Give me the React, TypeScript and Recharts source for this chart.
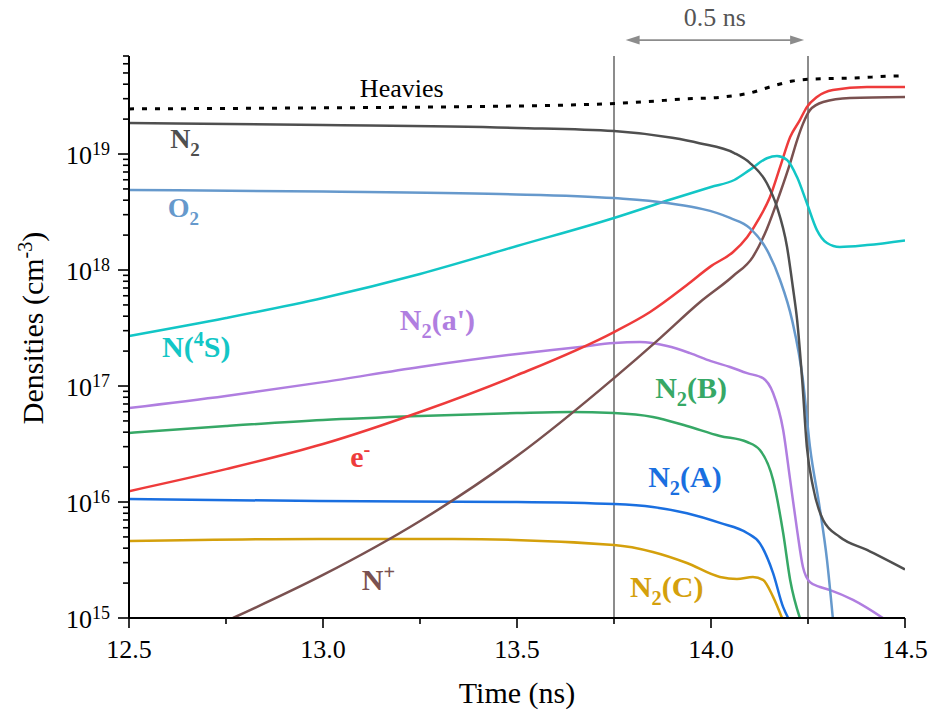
import { LineChart, Line, XAxis, YAxis, ReferenceLine, ReferenceDot } from "recharts"

const FONT = '"Liberation Serif", "Times New Roman", Times, serif'

// time axis (ns)
const timeTicks = [12.5, 12.75, 13, 13.25, 13.5, 13.75, 14, 14.25, 14.5]
const timeMajor = [12.5, 13, 13.5, 14, 14.5]
const timeMajorLabels = ["12.5", "13.0", "13.5", "14.0", "14.5"]

// density axis (cm^-3), log
const decades = [1e15, 1e16, 1e17, 1e18, 1e19]
const decadeExp = ["15", "16", "17", "18", "19"]
const minorMult = [2, 3, 4, 5, 6, 7, 8, 9]
const densityMax = 7e19
const densityTicks = decades
  .flatMap((d) => [d, ...minorMult.map((m) => m * d)])
  .filter((v) => v <= densityMax)

// markers of the 0.5 ns window
const windowStart = 13.75
const windowEnd = 14.25
const arrowFrom = 13.78
const arrowTo = 14.24
const arrowLevel = 9.6e19

// series
const heaviesTime = [12.5, 13.0, 13.45, 13.6, 13.72, 13.82, 13.93, 14.03, 14.1, 14.16, 14.21, 14.26, 14.37, 14.47, 14.5]
const heaviesDens = [2.45e19, 2.5e19, 2.58e19, 2.63e19, 2.7e19, 2.81e19, 2.98e19, 3.1e19, 3.36e19, 3.86e19, 4.26e19, 4.43e19, 4.52e19, 4.7e19, 4.72e19]

const n2Time = [12.5, 13.0, 13.5, 13.75, 13.9, 13.97, 14.06, 14.1, 14.144, 14.17, 14.196, 14.211, 14.222, 14.235, 14.247, 14.263, 14.289, 14.332, 14.402, 14.5]
const n2Dens = [1.85e19, 1.78e19, 1.68e19, 1.58e19, 1.38e19, 1.24e19, 1.02e19, 8.4e18, 5.6e18, 3.5e18, 1.58e18, 7.1e17, 3.7e17, 1.13e17, 3.0e16, 1.35e16, 7.0e15, 5.0e15, 3.86e15, 2.62e15]

const o2Time = [12.5, 13.0, 13.456, 13.75, 13.887, 14.049, 14.1, 14.144, 14.178, 14.209, 14.237, 14.255, 14.28, 14.299, 14.314]
const o2Dens = [4.9e18, 4.75e18, 4.52e18, 4.17e18, 3.78e18, 2.81e18, 2.3e18, 1.49e18, 8.2e17, 3.7e17, 1.12e17, 3.0e16, 9.0e15, 3.16e15, 1.0e15]

const n4sTime = [12.5, 12.75, 13.0, 13.25, 13.5, 13.75, 13.9, 14.0, 14.06, 14.1, 14.144, 14.17, 14.196, 14.222, 14.247, 14.273, 14.299, 14.332, 14.402, 14.5]
const n4sDens = [2.7e17, 3.86e17, 5.74e17, 9.25e17, 1.61e18, 2.81e18, 4.09e18, 5.2e18, 5.97e18, 7.3e18, 9.2e18, 9.6e18, 8.9e18, 6.3e18, 3.78e18, 2.21e18, 1.71e18, 1.58e18, 1.64e18, 1.8e18]

const n2aTime = [12.5, 12.75, 13.0, 13.25, 13.5, 13.662, 13.75, 13.817, 13.887, 13.946, 14.0, 14.049, 14.093, 14.134, 14.16, 14.186, 14.204, 14.222, 14.237, 14.255, 14.281, 14.307, 14.366, 14.443]
const n2aDens = [6.46e16, 8.2e16, 1.08e17, 1.46e17, 1.89e17, 2.17e17, 2.35e17, 2.39e17, 2.21e17, 1.92e17, 1.64e17, 1.46e17, 1.29e17, 1.17e17, 8.7e16, 4.18e16, 1.55e16, 5.7e15, 2.75e15, 2.04e15, 1.85e15, 1.74e15, 1.43e15, 1.0e15]

const n2bTime = [12.5, 12.75, 13.0, 13.25, 13.5, 13.637, 13.75, 13.85, 13.938, 14.023, 14.093, 14.126, 14.16, 14.186, 14.204, 14.229]
const n2bDens = [3.94e16, 4.52e16, 5.09e16, 5.51e16, 5.85e16, 5.97e16, 5.85e16, 5.41e16, 4.52e16, 3.71e16, 3.29e16, 2.81e16, 1.55e16, 5.4e15, 2.13e15, 1.0e15]

const elecTime = [12.5, 12.75, 13.0, 13.25, 13.5, 13.75, 13.843, 13.938, 14.0, 14.057, 14.093, 14.126, 14.152, 14.178, 14.204, 14.229, 14.247, 14.273, 14.314, 14.402, 14.5]
const elecDens = [1.24e16, 1.92e16, 3.16e16, 5.97e16, 1.24e17, 2.92e17, 4.35e17, 7.43e17, 1.08e18, 1.43e18, 1.92e18, 2.86e18, 4.26e18, 7.7e18, 1.4e19, 1.96e19, 2.54e19, 3.1e19, 3.56e19, 3.78e19, 3.78e19]

const nPlusTime = [12.768, 13.0, 13.25, 13.5, 13.75, 13.869, 13.972, 14.057, 14.108, 14.144, 14.178, 14.204, 14.222, 14.237, 14.255, 14.289, 14.358, 14.5]
const nPlusDens = [1.0e15, 2.35e15, 6.86e15, 2.49e16, 1.17e17, 2.59e17, 5.3e17, 8.88e17, 1.3e18, 2.26e18, 4.61e18, 8.36e18, 1.32e19, 1.82e19, 2.39e19, 2.81e19, 3.04e19, 3.1e19]

const n2AstTime = [12.5, 12.99, 13.5, 13.75, 13.85, 13.938, 14.023, 14.093, 14.126, 14.16, 14.186, 14.199]
const n2AstDens = [1.06e16, 1.02e16, 1.0e16, 9.6e15, 9.06e15, 8.0e15, 6.6e15, 5.4e15, 4.4e15, 2.44e15, 1.24e15, 1.0e15]

const n2cTime = [12.5, 12.99, 13.335, 13.75, 13.85, 13.938, 14.023, 14.067, 14.108, 14.134, 14.16, 14.183]
const n2cDens = [4.61e15, 4.8e15, 4.8e15, 4.26e15, 3.71e15, 2.98e15, 2.26e15, 2.17e15, 2.26e15, 2.13e15, 1.52e15, 1.0e15]

const C = {
  heavies: "#000000",
  n2: "#4f4f4f",
  o2: "#6699cc",
  n4s: "#12c6c6",
  n2a: "#b07ee0",
  n2b: "#36a866",
  elec: "#ee3b3b",
  nPlus: "#7a5150",
  n2A: "#1a6fe0",
  n2c: "#d4a00c",
}

const zip = (t: number[], v: number[]) => t.map((x, i) => ({ t: x, v: v[i] }))

const series = [
  { id: "n2c", data: zip(n2cTime, n2cDens), color: C.n2c },
  { id: "n2A", data: zip(n2AstTime, n2AstDens), color: C.n2A },
  { id: "n2b", data: zip(n2bTime, n2bDens), color: C.n2b },
  { id: "n2a", data: zip(n2aTime, n2aDens), color: C.n2a },
  { id: "nPlus", data: zip(nPlusTime, nPlusDens), color: C.nPlus },
  { id: "elec", data: zip(elecTime, elecDens), color: C.elec },
  { id: "n4s", data: zip(n4sTime, n4sDens), color: C.n4s },
  { id: "o2", data: zip(o2Time, o2Dens), color: C.o2 },
  { id: "n2", data: zip(n2Time, n2Dens), color: C.n2 },
]

type Piece = [string, "n" | "sub" | "sup"]
const curveLabels: { t: number; v: number; pieces: Piece[]; color: string; size: number; bold: boolean }[] = [
  { t: 13.095, v: 3.1e19, pieces: [["Heavies", "n"]], color: C.heavies, size: 26, bold: false },
  { t: 12.606, v: 1.13e19, pieces: [["N", "n"], ["2", "sub"]], color: C.n2, size: 28, bold: true },
  { t: 12.6, v: 2.87e18, pieces: [["O", "n"], ["2", "sub"]], color: C.o2, size: 28, bold: true },
  { t: 12.585, v: 1.78e17, pieces: [["N(", "n"], ["4", "sup"], ["S)", "n"]], color: C.n4s, size: 30, bold: true },
  { t: 13.198, v: 3.04e17, pieces: [["N", "n"], ["2", "sub"], ["(a')", "n"]], color: C.n2a, size: 30, bold: true },
  { t: 13.856, v: 7.9e16, pieces: [["N", "n"], ["2", "sub"], ["(B)", "n"]], color: C.n2b, size: 30, bold: true },
  { t: 13.07, v: 2.0e16, pieces: [["e", "n"], ["-", "sup"]], color: C.elec, size: 30, bold: true },
  { t: 13.838, v: 1.35e16, pieces: [["N", "n"], ["2", "sub"], ["(A)", "n"]], color: C.n2A, size: 30, bold: true },
  { t: 13.791, v: 1.52e15, pieces: [["N", "n"], ["2", "sub"], ["(C)", "n"]], color: C.n2c, size: 30, bold: true },
  { t: 13.1, v: 1.74e15, pieces: [["N", "n"], ["+", "sup"]], color: C.nPlus, size: 30, bold: true },
]

function renderPieces(pieces: Piece[], size: number) {
  let shift = 0
  return pieces.map(([txt, kind], k) => {
    const target = kind === "sub" ? size * 0.28 : kind === "sup" ? -size * 0.36 : 0
    const dy = target - shift
    shift = target
    return (
      <tspan key={k} dy={dy} fontSize={kind === "n" ? size : size * 0.68}>
        {txt}
      </tspan>
    )
  })
}

function BottomTick(props: any) {
  const { x, y, payload } = props
  const i = timeMajor.indexOf(payload.value)
  const len = i >= 0 ? 10 : 6
  return (
    <g>
      <line x1={x} x2={x} y1={y} y2={y + len} stroke="#000" strokeWidth={1.6} />
      {i >= 0 && (
        <text x={x} y={y + 40} textAnchor="middle" fontFamily={FONT} fontSize={26} fill="#000">
          {timeMajorLabels[i]}
        </text>
      )}
    </g>
  )
}

function TopTick(props: any) {
  const { x, y, payload } = props
  const len = timeMajor.includes(payload.value) ? 10 : 6
  return <line x1={x} x2={x} y1={y} y2={y + len} stroke="#000" strokeWidth={1.6} />
}

function LeftTick(props: any) {
  const { x, y, payload } = props
  const i = decades.indexOf(payload.value)
  const len = i >= 0 ? 11 : 6
  return (
    <g>
      <line x1={x - len} x2={x} y1={y} y2={y} stroke="#000" strokeWidth={1.6} />
      {i >= 0 && (
        <text x={x - 19} y={y + 10} textAnchor="end" fontFamily={FONT} fontSize={26} fill="#000">
          10
          <tspan dy={-9} fontSize={18}>
            {decadeExp[i]}
          </tspan>
        </text>
      )}
    </g>
  )
}

function RightTick(props: any) {
  const { x, y, payload } = props
  const len = decades.includes(payload.value) ? 11 : 6
  return <line x1={x - len} x2={x} y1={y} y2={y} stroke="#000" strokeWidth={1.6} />
}

function ArrowShape(props: any) {
  const { x1, y1, x2 } = props
  const head = 14
  const half = 4.5
  const col = "#8c8c8c"
  return (
    <g>
      <line x1={x1 + head - 2} x2={x2 - head + 2} y1={y1} y2={y1} stroke={col} strokeWidth={1.6} />
      <polygon points={`${x1},${y1} ${x1 + head},${y1 - half} ${x1 + head},${y1 + half}`} fill={col} />
      <polygon points={`${x2},${y1} ${x2 - head},${y1 - half} ${x2 - head},${y1 + half}`} fill={col} />
      <text x={(x1 + x2) / 2} y={y1 - 14} textAnchor="middle" fontFamily={FONT} fontSize={26} fill="#555">
        0.5 ns
      </text>
    </g>
  )
}

export default function App() {
  return (
    <div style={{ position: "absolute", left: 0, top: 0, background: "#fff" }}>
      <LineChart width={931} height={713} margin={{ top: 56, right: 26, bottom: 0, left: 0 }}>
        <XAxis
          dataKey="t"
          type="number"
          domain={[12.5, 14.5]}
          ticks={timeTicks}
          interval={0}
          allowDataOverflow
          height={95}
          tickSize={0}
          tickMargin={0}
          tickLine={false}
          tick={(p: any) => <BottomTick {...p} />}
          axisLine={{ stroke: "#000", strokeWidth: 2 }}
          label={{
            content: (p: any) => {
              const vb = p.viewBox
              return (
                <text x={vb.x + vb.width / 2} y={vb.y + 85} textAnchor="middle" fontFamily={FONT} fontSize={30} fill="#000">
                  Time (ns)
                </text>
              )
            },
          }}
        />
        <XAxis
          xAxisId="top"
          orientation="top"
          type="number"
          domain={[12.5, 14.5]}
          ticks={timeTicks}
          interval={0}
          allowDataOverflow
          height={0}
          tickSize={0}
          tickMargin={0}
          tickLine={false}
          tick={(p: any) => <TopTick {...p} />}
          axisLine={{ stroke: "#000", strokeWidth: 2 }}
        />
        <YAxis
          type="number"
          scale="log"
          domain={[decades[0], densityMax]}
          ticks={densityTicks}
          interval={0}
          allowDataOverflow
          width={129}
          tickSize={0}
          tickMargin={0}
          tickLine={false}
          tick={(p: any) => <LeftTick {...p} />}
          axisLine={{ stroke: "#000", strokeWidth: 2 }}
          label={{
            content: (p: any) => {
              const vb = p.viewBox
              const cx = vb.x + 43
              const cy = vb.y + vb.height / 2 - 9
              return (
                <text
                  x={cx}
                  y={cy}
                  transform={`rotate(-90, ${cx}, ${cy})`}
                  textAnchor="middle"
                  fontFamily={FONT}
                  fontSize={30}
                  fill="#000"
                >
                  Densities (cm
                  <tspan dy={-11} fontSize={20}>
                    -3
                  </tspan>
                  <tspan dy={11}>)</tspan>
                </text>
              )
            },
          }}
        />
        <YAxis
          yAxisId="right"
          orientation="right"
          type="number"
          scale="log"
          domain={[decades[0], densityMax]}
          ticks={densityTicks}
          interval={0}
          allowDataOverflow
          width={0}
          tickSize={0}
          tickMargin={0}
          tickLine={false}
          tick={(p: any) => <RightTick {...p} />}
          axisLine={{ stroke: "#000", strokeWidth: 2 }}
        />

        <ReferenceLine x={windowStart} stroke="#8c8c8c" strokeWidth={2} />
        <ReferenceLine x={windowEnd} stroke="#8c8c8c" strokeWidth={2} />
        <ReferenceLine
          segment={[
            { x: arrowFrom, y: arrowLevel },
            { x: arrowTo, y: arrowLevel },
          ]}
          ifOverflow="visible"
          shape={(p: any) => <ArrowShape {...p} />}
        />

        <Line
          data={zip(heaviesTime, heaviesDens)}
          dataKey="v"
          type="monotone"
          stroke={C.heavies}
          strokeWidth={3}
          strokeDasharray="5 8"
          dot={false}
          isAnimationActive={false}
        />
        {series.map((s) => (
          <Line
            key={s.id}
            data={s.data}
            dataKey="v"
            type="monotone"
            stroke={s.color}
            strokeWidth={2.5}
            dot={false}
            isAnimationActive={false}
          />
        ))}

        {curveLabels.map((l, i) => (
          <ReferenceDot
            key={i}
            x={l.t}
            y={l.v}
            r={1}
            fill="none"
            stroke="none"
            label={{
              content: (p: any) => {
                const vb = p.viewBox
                return (
                  <text
                    x={vb.x + vb.width / 2}
                    y={vb.y + vb.height / 2}
                    fontFamily={FONT}
                    fontWeight={l.bold ? "bold" : "normal"}
                    fontSize={l.size}
                    fill={l.color}
                  >
                    {renderPieces(l.pieces, l.size)}
                  </text>
                )
              },
            }}
          />
        ))}
      </LineChart>
    </div>
  )
}
